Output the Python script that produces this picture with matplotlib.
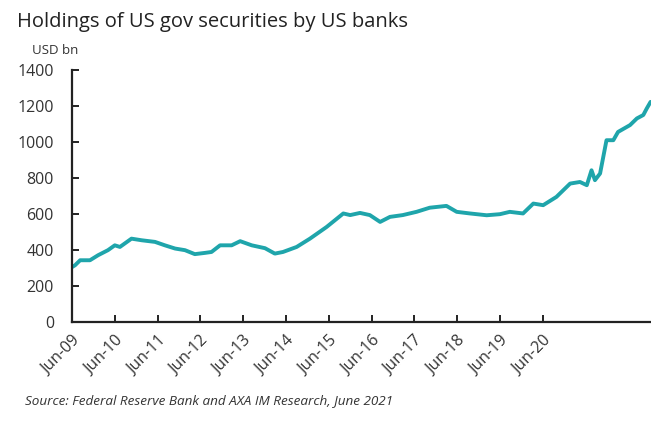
import matplotlib
matplotlib.use("Agg")
import matplotlib.pyplot as plt

# x position in years after Jun-09 (as placed on the category axis), value in USD bn
years_after = [0.0, 0.07, 0.19, 0.42, 0.61, 0.84, 1.00, 1.12, 1.39, 1.63,
               1.94, 2.17, 2.41, 2.64, 2.87, 3.11, 3.26, 3.46, 3.73, 3.93,
               4.20, 4.51, 4.74, 4.93, 5.25, 5.56, 5.95, 6.34, 6.50, 6.73,
               6.96, 7.20, 7.43, 7.73, 8.05, 8.36, 8.75, 8.99, 9.30, 9.69,
               10.00, 10.23, 10.54, 10.78, 11.01, 11.32, 11.64, 11.87, 12.03, 12.14,
               12.22, 12.34, 12.49, 12.65, 12.76, 13.04, 13.20, 13.35, 13.43, 13.52]
holdings = [305, 315, 343, 343, 371, 399, 426, 417, 463, 454,
            445, 426, 408, 399, 377, 384, 389, 426, 426, 449,
            426, 410, 380, 389, 417, 463, 528, 603, 594, 606,
            594, 556, 584, 594, 612, 635, 645, 612, 603, 593,
            599, 612, 603, 658, 649, 695, 769, 778, 760, 843,
            788, 825, 1010, 1010, 1056, 1094, 1131, 1150, 1186, 1223]

tick_labels = ["Jun-09", "Jun-10", "Jun-11", "Jun-12", "Jun-13", "Jun-14",
               "Jun-15", "Jun-16", "Jun-17", "Jun-18", "Jun-19", "Jun-20"]
y_ticks = [0, 200, 400, 600, 800, 1000, 1200, 1400]

plt.rcParams["font.family"] = ["Open Sans", "DejaVu Sans"]

fig = plt.figure(figsize=(6.51, 4.28), dpi=100)
ax = fig.add_axes([0.1106, 0.2477, 0.8894, 0.5887])

ax.plot(years_after, holdings, color="#1fa5ab", lw=2.8, solid_capstyle="round")

ax.set_xlim(0, 13.53)
ax.set_ylim(0, 1400)
ax.set_yticks(y_ticks)
ax.set_yticklabels([str(v) for v in y_ticks], fontsize=11.5, color="#333333")
ax.set_xticks(range(len(tick_labels)))
ax.set_xticklabels(tick_labels, rotation=45, ha="right", va="top",
                   rotation_mode="anchor", fontsize=11.5, color="#333333")

for s in ["top", "right"]:
    ax.spines[s].set_visible(False)
for s in ["left", "bottom"]:
    ax.spines[s].set_linewidth(1.6)
    ax.spines[s].set_color("#222222")
ax.tick_params(axis="both", direction="in", length=5, width=1.4, color="#222222")
ax.tick_params(axis="y", pad=13)
ax.tick_params(axis="x", pad=8)

fig.text(0.026, 0.948, "Holdings of US gov securities by US banks",
         fontsize=14.5, color="#222222", va="center", ha="left")
fig.text(0.049, 0.883, "USD bn", fontsize=9.5, color="#333333", va="center", ha="left")
fig.text(0.038, 0.065, "Source: Federal Reserve Bank and AXA IM Research, June 2021",
         fontsize=9.7, style="italic", color="#333333", va="center", ha="left")

fig.savefig("out.png", dpi=100)
